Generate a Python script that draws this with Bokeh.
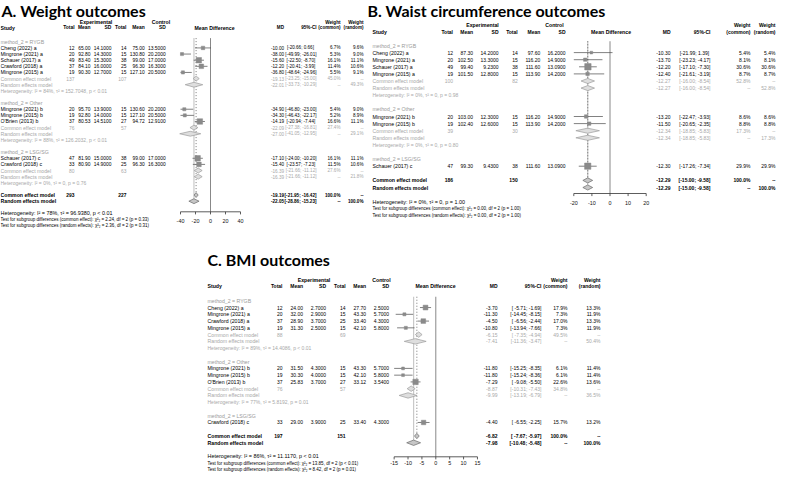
import math
from bokeh.plotting import figure
from bokeh.models import Range1d, ColumnDataSource
from bokeh.core.properties import value
from bokeh.embed import file_html
from bokeh.resources import INLINE

# ------------------------------------------------------------------ data
# Panel A : weight
A_study = ["Cheng (2022) a", "Mingrone (2021) a", "Schauer (2017) a", "Crawford (2018) a", "Mingrone (2015) a",
           "Mingrone (2021) b", "Mingrone (2015) b", "O'Brien (2013) b", "Schauer (2017) c", "Crawford (2018) c"]
A_group = ["RYGB"] * 5 + ["Other"] * 3 + ["LSG/SG"] * 2
A_ne = [12, 20, 49, 37, 19, 20, 19, 37, 47, 33]
A_me = [65.00, 92.80, 83.40, 84.10, 90.30, 95.70, 92.80, 80.53, 81.90, 80.90]
A_sde = [14.1, 14.3, 15.3, 16.0, 12.7, 13.9, 14.0, 14.51, 15.0, 14.9]
A_nc = [14, 15, 38, 25, 15, 15, 15, 27, 38, 25]
A_mc = [75.00, 130.80, 99.00, 96.30, 127.10, 130.60, 127.10, 94.72, 99.00, 96.30]
A_sdc = [13.5, 20.2, 17.0, 16.3, 20.5, 20.2, 20.5, 12.91, 17.0, 16.3]
A_md = [-10.00, -38.00, -15.60, -12.20, -36.80, -34.90, -34.30, -14.19, -17.10, -15.40]
A_lo = [-20.66, -49.99, -22.50, -20.41, -48.64, -46.80, -46.43, -20.94, -24.00, -23.57]
A_hi = [0.66, -26.01, -8.70, -3.99, -24.96, -23.00, -22.17, -7.44, -10.20, -7.23]
A_wc = [6.7, 5.3, 16.1, 11.4, 5.5, 5.4, 5.2, 16.6, 16.1, 11.5]
A_wr = [9.6, 9.0, 11.1, 10.6, 9.1, 9.0, 8.9, 11.1, 11.1, 10.6]
A_groups = ["RYGB", "Other", "LSG/SG"]
A_g_ne = [137, 76, 80]
A_g_nc = [107, 57, 63]
A_gc_md = [-19.13, -22.09, -16.39]
A_gc_lo = [-23.25, -27.38, -21.66]
A_gc_hi = [-15.00, -16.81, -11.12]
A_gc_w = [45.0, 27.4, 27.6]
A_gr_md = [-22.01, -27.00, -16.39]
A_gr_lo = [-33.73, -41.05, -21.66]
A_gr_hi = [-10.29, -12.95, -11.12]
A_gr_w = [49.3, 29.1, 21.8]
A_g_het = ["Heterogeneity: I² = 84%, τ² = 152.7048, p < 0.01",
           "Heterogeneity: I² = 88%, τ² = 126.2032, p < 0.01",
           "Heterogeneity: I² = 0%, τ² = 0, p = 0.76"]
A_tot = [293, 227]
A_common = [-19.19, -21.95, -16.42]
A_random = [-22.05, -28.86, -15.23]
A_het = "Heterogeneity: I² = 78%, τ² = 96.9380, p < 0.01"
A_tests = ["Test for subgroup differences (common effect): χ²₂ = 2.24, df = 2 (p = 0.33)",
           "Test for subgroup differences (random effects): χ²₂ = 2.36, df = 2 (p = 0.31)"]
A_ticks = [-40, -20, 0, 20, 40]

# Panel B : waist circumference
B_study = ["Cheng (2022) a", "Mingrone (2021) a", "Schauer (2017) a", "Mingrone (2015) a",
           "Mingrone (2021) b", "Mingrone (2015) b", "Schauer (2017) c"]
B_group = ["RYGB"] * 4 + ["Other"] * 2 + ["LSG/SG"]
B_ne = [12, 20, 49, 19, 20, 19, 47]
B_me = [87.30, 102.50, 99.40, 101.50, 103.00, 102.40, 99.30]
B_sde = [14.2, 13.3, 9.23, 12.8, 12.3, 12.6, 9.43]
B_nc = [14, 15, 38, 15, 15, 15, 38]
B_mc = [97.60, 116.20, 111.60, 113.90, 116.20, 113.90, 111.60]
B_sdc = [16.2, 14.9, 13.09, 14.2, 14.9, 14.2, 13.09]
B_md = [-10.30, -13.70, -12.20, -12.40, -13.20, -11.50, -12.30]
B_lo = [-21.99, -23.23, -17.10, -21.61, -22.47, -20.65, -17.26]
B_hi = [1.39, -4.17, -7.30, -3.19, -3.93, -2.35, -7.34]
B_wc = [5.4, 8.1, 30.6, 8.7, 8.6, 8.8, 29.9]
B_wr = [5.4, 8.1, 30.6, 8.7, 8.6, 8.8, 29.9]
B_groups = ["RYGB", "Other", "LSG/SG"]
B_g_ne = [100, 39, None]
B_g_nc = [82, 30, None]
B_gc_md = [-12.27, -12.34, None]
B_gc_lo = [-16.00, -18.85, None]
B_gc_hi = [-8.54, -5.83, None]
B_gc_w = [52.8, 17.3, None]
B_gr_md = [-12.27, -12.34, None]
B_gr_lo = [-16.00, -18.85, None]
B_gr_hi = [-8.54, -5.83, None]
B_gr_w = [52.8, 17.3, None]
B_g_het = ["Heterogeneity: I² = 0%, τ² = 0, p = 0.98",
           "Heterogeneity: I² = 0%, τ² = 0, p = 0.80", None]
B_tot = [186, 150]
B_common = [-12.29, -15.00, -9.58]
B_random = [-12.29, -15.00, -9.58]
B_het = "Heterogeneity: I² = 0%, τ² = 0, p = 1.00"
B_tests = ["Test for subgroup differences (common effect): χ²₂ = 0.00, df = 2 (p = 1.00)",
           "Test for subgroup differences (random effects): χ²₂ = 0.00, df = 2 (p = 1.00)"]
B_ticks = [-20, -10, 0, 10, 20]

# Panel C : BMI
C_study = ["Cheng (2022) a", "Mingrone (2021) a", "Crawford (2018) a", "Mingrone (2015) a",
           "Mingrone (2021) b", "Mingrone (2015) b", "O'Brien (2013) b", "Crawford (2018) c"]
C_group = ["RYGB"] * 4 + ["Other"] * 3 + ["LSG/SG"]
C_ne = [12, 20, 37, 19, 20, 19, 37, 33]
C_me = [24.00, 32.00, 28.90, 31.30, 31.50, 30.30, 25.83, 29.00]
C_sde = [2.7, 2.9, 3.7, 2.5, 4.3, 4.0, 3.7, 3.9]
C_nc = [14, 15, 25, 15, 15, 15, 27, 25]
C_mc = [27.70, 43.30, 33.40, 42.10, 43.30, 42.10, 33.12, 33.40]
C_sdc = [2.5, 5.7, 4.3, 5.8, 5.7, 5.8, 3.54, 4.3]
C_md = [-3.70, -11.30, -4.50, -10.80, -11.80, -11.80, -7.29, -4.40]
C_lo = [-5.71, -14.45, -6.56, -13.94, -15.25, -15.24, -9.08, -6.55]
C_hi = [-1.69, -8.15, -2.44, -7.66, -8.35, -8.36, -5.50, -2.25]
C_wc = [17.9, 7.3, 17.0, 7.3, 6.1, 6.1, 22.6, 15.7]
C_wr = [13.3, 11.9, 13.3, 11.9, 11.4, 11.4, 13.6, 13.2]
C_groups = ["RYGB", "Other", "LSG/SG"]
C_g_ne = [88, 76, None]
C_g_nc = [69, 57, None]
C_gc_md = [-6.15, -8.87, None]
C_gc_lo = [-7.35, -10.31, None]
C_gc_hi = [-4.94, -7.43, None]
C_gc_w = [49.5, 34.8, None]
C_gr_md = [-7.41, -9.99, None]
C_gr_lo = [-11.36, -13.19, None]
C_gr_hi = [-3.47, -6.79, None]
C_gr_w = [50.4, 36.5, None]
C_g_het = ["Heterogeneity: I² = 89%, τ² = 14.4086, p < 0.01",
           "Heterogeneity: I² = 77%, τ² = 5.8192, p = 0.01", None]
C_tot = [197, 151]
C_common = [-6.82, -7.67, -5.97]
C_random = [-7.98, -10.48, -5.48]
C_het = "Heterogeneity: I² = 86%, τ² = 11.1170, p < 0.01"
C_tests = ["Test for subgroup differences (common effect): χ²₂ = 13.85, df = 2 (p < 0.01)",
           "Test for subgroup differences (random effects): χ²₂ = 8.42, df = 2 (p = 0.01)"]
C_ticks = [-15, -10, -5, 0, 5, 10, 15]

TITLES = ["A. Weight outcomes", "B. Waist circumference outcomes", "C. BMI outcomes"]

# ------------------------------------------------------------------ canvas (page pixels, 8px margin)
W, H = 776, 477
p = figure(width=W, height=H, x_range=Range1d(8, 8 + W), y_range=Range1d(8 + H, 8),
           output_backend="svg", toolbar_location=None, min_border=0)
p.xaxis.visible = False
p.yaxis.visible = False
p.xgrid.visible = False
p.ygrid.visible = False
p.outline_line_color = None
p.background_fill_color = "white"
p.border_fill_color = "white"

FONT = "Liberation Sans"
texts = {}


def T(x, y, s, align="left", size=5.0, color="#000000", bold=False, font=FONT):
    key = (align, size, color, bold, font)
    d = texts.setdefault(key, {"x": [], "y": [], "text": []})
    d["x"].append(x)
    d["y"].append(y)
    d["text"].append(s)


def flush_texts():
    for (align, size, color, bold, font), d in texts.items():
        p.text(x="x", y="y", text="text", source=ColumnDataSource(d), text_align=align,
               text_baseline="middle", text_font=value(font),
               text_font_size=value(f"{size:.2f}px"),
               text_font_style="bold" if bold else "normal", text_color=color)


GRAY_LBL = "#9a9a9a"
GRAY_SUM = "#a8a8a8"


def draw_panel(c, D):
    rn = c["name"]
    dx = c["dx"]
    x0, k = c["zero_x"] + dx, c["k"]
    p.extra_x_ranges[rn] = Range1d((8 - x0) / k, (8 + W - x0) / k)
    fs, fn, fr = c["fs"], c["fn"], c["fr"]
    col = {kk: v + dx for kk, v in c["cols"].items()}
    sx = c["study_x"] + dx

    rows = []
    for gi, g in enumerate(D["groups"]):
        rows.append(("label", gi))
        idx = [j for j in range(len(D["study"])) if D["group"][j] == g]
        rows += [("study", j) for j in idx]
        if len(idx) > 1:
            rows += [("gcom", gi), ("gran", gi), ("ghet", gi)]
        rows.append(("blank", None))
    rows += [("ocom", None), ("oran", None), ("blank", None), ("het", None), ("test", 0), ("test", 1)]
    ys = [c["y0"] + i * c["step"] for i in range(len(rows))]

    lo_all = D["lo"] + [v for v in D["gc_lo"] + D["gr_lo"] if v is not None] + [D["common"][1], D["random"][1]]
    hi_all = D["hi"] + [v for v in D["gc_hi"] + D["gr_hi"] if v is not None] + [D["common"][2], D["random"][2]]
    lw = max(len(f"{v:.2f}") for v in lo_all)
    hw = max(len(f"{v:.2f}") for v in hi_all)

    def ci(lo, hi):
        return f"[{lo:{lw}.2f}; {hi:{hw}.2f}]"

    T(c["exp_x"] + dx, c["hdr1_y"], "Experimental", "center", fs, bold=True)
    T(c["ctl_x"] + dx, c["hdr1_y"], "Control", "center", fs, bold=True)
    T(col["wc"], c["hdr1_y"], "Weight", "right", fr, bold=True)
    T(col["wr"], c["hdr1_y"], "Weight", "right", fr, bold=True)
    h2 = c["hdr2_y"]
    T(sx, h2, "Study", "left", fs, bold=True)
    for key, lab in [("ne", "Total"), ("me", "Mean"), ("sde", "SD"), ("nc", "Total"), ("mc", "Mean"),
                     ("sdc", "SD")]:
        T(col[key], h2, lab, "right", fn, bold=True)
    for key, lab in [("md", "MD"), ("ci", "95%-CI"), ("wc", "(common)"), ("wr", "(random)")]:
        T(col[key], h2, lab, "right", fr, bold=True)
    T(c["mdh_x"] + dx, h2, "Mean Difference", "center", fs, bold=True)

    sq = {"x": [], "y": [], "s": []}
    seg = {"x0": [], "x1": [], "y": []}
    dia_sub = {"xs": [], "ys": []}
    dia_all = {"xs": [], "ys": []}
    wmax = max(D["wc"])
    xmin, xmax = D["ticks"][0], D["ticks"][-1]
    dh = c["step"] * c["dia"]
    y_oc = y_or = ys[-1]

    for (kind, i), y in zip(rows, ys):
        if kind == "label":
            T(sx, y, "method_2 = " + D["groups"][i], "left", fs, GRAY_LBL)
        elif kind == "study":
            T(sx, y, D["study"][i], "left", fs)
            T(col["ne"], y, str(D["ne"][i]), "right", fn)
            T(col["me"], y, f"{D['me'][i]:.2f}", "right", fn)
            T(col["sde"], y, f"{D['sde'][i]:.4f}", "right", fn)
            T(col["nc"], y, str(D["nc"][i]), "right", fn)
            T(col["mc"], y, f"{D['mc'][i]:.2f}", "right", fn)
            T(col["sdc"], y, f"{D['sdc'][i]:.4f}", "right", fn)
            T(col["md"], y, f"{D['md'][i]:.2f}", "right", fr)
            T(col["ci"], y, ci(D["lo"][i], D["hi"][i]), "right", fr)
            T(col["wc"], y, f"{D['wc'][i]:.1f}%", "right", fr)
            T(col["wr"], y, f"{D['wr'][i]:.1f}%", "right", fr)
            sq["x"].append(D["md"][i])
            sq["y"].append(y)
            sq["s"].append(c["sq"] * math.sqrt(D["wc"][i] / wmax))
            seg["x0"].append(max(D["lo"][i], xmin))
            seg["x1"].append(min(D["hi"][i], xmax))
            seg["y"].append(y)
        elif kind == "gcom":
            T(sx, y, "Common effect model", "left", fs, GRAY_SUM)
            T(col["ne"], y, str(D["g_ne"][i]), "right", fn, GRAY_SUM)
            T(col["nc"], y, str(D["g_nc"][i]), "right", fn, GRAY_SUM)
            T(col["md"], y, f"{D['gc_md'][i]:.2f}", "right", fr, GRAY_SUM)
            T(col["ci"], y, ci(D["gc_lo"][i], D["gc_hi"][i]), "right", fr, GRAY_SUM)
            T(col["wc"], y, f"{D['gc_w'][i]:.1f}%", "right", fr, GRAY_SUM)
            T(col["wr"], y, "--", "right", fr, GRAY_SUM)
            dia_sub["xs"].append([D["gc_lo"][i], D["gc_md"][i], D["gc_hi"][i], D["gc_md"][i]])
            dia_sub["ys"].append([y, y - dh, y, y + dh])
        elif kind == "gran":
            T(sx, y, "Random effects model", "left", fs, GRAY_SUM)
            T(col["md"], y, f"{D['gr_md'][i]:.2f}", "right", fr, GRAY_SUM)
            T(col["ci"], y, ci(D["gr_lo"][i], D["gr_hi"][i]), "right", fr, GRAY_SUM)
            T(col["wc"], y, "--", "right", fr, GRAY_SUM)
            T(col["wr"], y, f"{D['gr_w'][i]:.1f}%", "right", fr, GRAY_SUM)
            dia_sub["xs"].append([D["gr_lo"][i], D["gr_md"][i], D["gr_hi"][i], D["gr_md"][i]])
            dia_sub["ys"].append([y, y - dh, y, y + dh])
        elif kind == "ghet":
            T(sx, y, D["g_het"][i], "left", c["hfs"], GRAY_SUM)
        elif kind == "ocom":
            T(sx, y, "Common effect model", "left", fs, bold=True)
            T(col["ne"], y, str(D["tot"][0]), "right", fn, bold=True)
            T(col["nc"], y, str(D["tot"][1]), "right", fn, bold=True)
            T(col["md"], y, f"{D['common'][0]:.2f}", "right", fr, bold=True)
            T(col["ci"], y, ci(D["common"][1], D["common"][2]), "right", fr, bold=True)
            T(col["wc"], y, "100.0%", "right", fr, bold=True)
            T(col["wr"], y, "--", "right", fr, bold=True)
            dia_all["xs"].append([D["common"][1], D["common"][0], D["common"][2], D["common"][0]])
            dia_all["ys"].append([y, y - dh, y, y + dh])
            y_oc = y
        elif kind == "oran":
            T(sx, y, "Random effects model", "left", fs, bold=True)
            T(col["md"], y, f"{D['random'][0]:.2f}", "right", fr, bold=True)
            T(col["ci"], y, ci(D["random"][1], D["random"][2]), "right", fr, bold=True)
            T(col["wc"], y, "--", "right", fr, bold=True)
            T(col["wr"], y, "100.0%", "right", fr, bold=True)
            dia_all["xs"].append([D["random"][1], D["random"][0], D["random"][2], D["random"][0]])
            dia_all["ys"].append([y, y - dh, y, y + dh])
            y_or = y
        elif kind == "het":
            T(sx, y, D["het"], "left", c["ofs"])
        elif kind == "test":
            T(sx, y, D["tests"][i], "left", c["tsf"])

    top = ys[0] - c["step"] * 0.6
    p.segment(x0=[D["random"][0]], x1=[D["random"][0]], y0=[top], y1=[y_or], x_range_name=rn,
              line_color="#c4c4c4", line_width=1.1)
    p.segment(x0=[D["common"][0]], x1=[D["common"][0]], y0=[top], y1=[y_oc], x_range_name=rn,
              line_color="#555555", line_width=0.8, line_dash="1 2")
    p.segment(x0=[0], x1=[0], y0=[top], y1=[c["axis_y"]], x_range_name=rn,
              line_color="#7a7a7a", line_width=0.9)
    p.segment(x0="x0", x1="x1", y0="y", y1="y", source=ColumnDataSource(seg), x_range_name=rn,
              line_color="#4a4a4a", line_width=0.7)
    p.scatter(x="x", y="y", size="s", marker="square", source=ColumnDataSource(sq), x_range_name=rn,
              fill_color="#8a8a8a", line_color="#8a8a8a", line_width=0.5)
    p.patches(xs="xs", ys="ys", source=ColumnDataSource(dia_sub), x_range_name=rn,
              fill_color="#dedede", line_color="#9c9c9c", line_width=0.7)
    p.patches(xs="xs", ys="ys", source=ColumnDataSource(dia_all), x_range_name=rn,
              fill_color="#c6c6c6", line_color="#6a6a6a", line_width=0.7)
    ay = c["axis_y"]
    p.segment(x0=[xmin], x1=[xmax], y0=[ay], y1=[ay], x_range_name=rn, line_color="#333333", line_width=0.8)
    p.segment(x0=D["ticks"], x1=D["ticks"], y0=[ay] * len(D["ticks"]), y1=[ay + 2.6] * len(D["ticks"]),
              x_range_name=rn, line_color="#333333", line_width=0.8)
    p.text(x=D["ticks"], y=[c["label_y"]] * len(D["ticks"]), text=[str(t) for t in D["ticks"]],
           x_range_name=rn, text_align="center", text_baseline="middle", text_font=value(FONT),
           text_font_size=value(f"{c['tfs']:.2f}px"), text_color="#111111")
    T(c["title_x"] + dx, c["title_y"], c["title"], "left", 16.0, "#000000", True, "Lato")


def pack(prefix):
    g = globals()
    keys = ["study", "group", "ne", "me", "sde", "nc", "mc", "sdc", "md", "lo", "hi", "wc", "wr", "groups",
            "g_ne", "g_nc", "gc_md", "gc_lo", "gc_hi", "gc_w", "gr_md", "gr_lo", "gr_hi", "gr_w", "g_het",
            "tot", "common", "random", "het", "tests", "ticks"]
    return {kk: g[f"{prefix}_{kk}"] for kk in keys}


cfgA = dict(name="A", dx=6, title=TITLES[0], title_x=3, title_y=18.0, study_x=2,
            cols=dict(ne=76, me=91.9, sde=112.9, nc=127.9, mc=146.2, sdc=167.2, md=285.5, ci=318, wc=342, wr=365),
            exp_x=97.5, ctl_x=162.5, hdr1_y=29.5, hdr2_y=35, mdh_x=216,
            zero_x=212, k=0.75, y0=49.3, step=6.13, axis_y=219.3, label_y=228.7,
            fs=5.2, fn=4.9, fr=4.6, hfs=5.0, ofs=5.4, tsf=4.5, tfs=5.4, sq=5.5, dia=0.4)
cfgB = dict(name="B", dx=-7, title=TITLES[1], title_x=382, title_y=18.0, study_x=387,
            cols=dict(ne=467.5, me=487.6, sde=513, nc=532.2, mc=554.8, sdc=580, md=685, ci=725, wc=765, wr=790),
            exp_x=497, ctl_x=569, hdr1_y=32.5, hdr2_y=39, mdh_x=625.5,
            zero_x=624.5, k=1.81, y0=53, step=7.1, axis_y=201, label_y=210,
            fs=5.2, fn=5.0, fr=5.0, hfs=5.0, ofs=5.4, tsf=4.5, tfs=5.4, sq=6.4, dia=0.36)
cfgC = dict(name="C", dx=0, title=TITLES[2], title_x=215, title_y=267, study_x=215,
            cols=dict(ne=290, me=310.5, sde=333.5, nc=353.1, mc=373.6, sdc=396.6, md=505, ci=549, wc=575, wr=608),
            exp_x=321.5, ctl_x=389, hdr1_y=287, hdr2_y=293, mdh_x=443,
            zero_x=443.3, k=2.777, y0=308.3, step=6.76, axis_y=464.3, label_y=470,
            fs=5.2, fn=5.0, fr=5.0, hfs=5.0, ofs=5.4, tsf=4.5, tfs=5.4, sq=5.4, dia=0.4)

draw_panel(cfgA, pack("A"))
draw_panel(cfgB, pack("B"))
draw_panel(cfgC, pack("C"))
flush_texts()

open("out.html", "w").write(file_html(p, INLINE))
